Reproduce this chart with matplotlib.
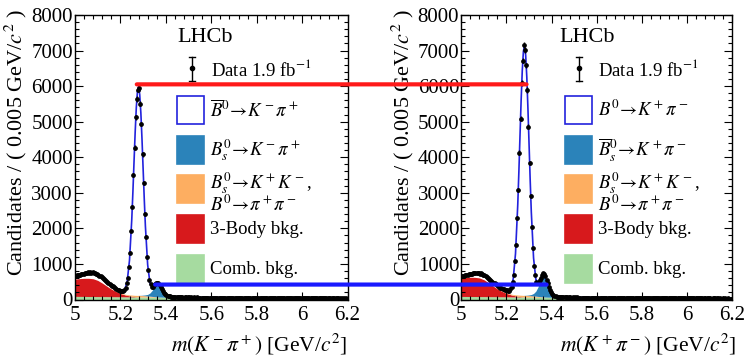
import numpy as np
import matplotlib.pyplot as plt
from matplotlib.patches import Rectangle, ConnectionPatch
from matplotlib.lines import Line2D
from matplotlib.ticker import MultipleLocator

plt.rcParams['font.family'] = ['Liberation Serif', 'DejaVu Serif']
plt.rcParams['mathtext.fontset'] = 'stix'

# bin centres, 0.005 GeV bins from 5.0 to 6.2
m_bins = np.round(np.arange(5.0025, 6.2, 0.005), 4)

# data, left panel  m(K- pi+)
data_L = np.array([
    668, 690, 679, 702, 695, 712, 706, 728, 735, 741,
    748, 762, 751, 770, 757, 760, 749, 742, 728, 715,
    690, 672, 655, 630, 612, 585, 560, 528, 505, 470,
    446, 420, 390, 372, 340, 318, 295, 280, 262, 250,
    238, 231, 248, 276, 322, 452, 606, 905, 1318, 1930,
    2610, 3490, 4270, 5120, 5640, 5905, 5950, 5510, 4935, 4080,
    3280, 2410, 1760, 1185, 826, 548, 425, 365, 352, 398,
    430, 458, 470, 452, 415, 355, 302, 240, 195, 165,
    140, 110, 101, 85, 84, 74, 78, 66, 70, 62,
    61, 58, 64, 57, 60, 55, 62, 58, 54, 59,
    57, 55, 60, 52, 58, 56, 51, 57, 54, 53,
    55, 50, 54, 52, 56, 49, 53, 51, 48, 52,
    51, 54, 48, 50, 47, 53, 49, 46, 51, 48,
    47, 50, 45, 49, 46, 44, 48, 47, 43, 46,
    45, 48, 44, 46, 42, 47, 43, 45, 41, 44,
    43, 40, 45, 42, 44, 39, 42, 41, 44, 40,
    41, 43, 39, 42, 38, 41, 40, 37, 42, 39,
    38, 41, 37, 40, 36, 39, 38, 35, 40, 37,
    37, 35, 39, 36, 38, 34, 37, 36, 33, 38,
    35, 37, 34, 36, 33, 35, 37, 32, 35, 34,
    34, 32, 36, 33, 35, 31, 34, 33, 30, 34,
    32, 34, 31, 33, 30, 33, 31, 32, 29, 33,
    31, 29, 33, 30, 32, 28, 31, 30, 29, 31,
    29, 31, 28, 30, 27, 30, 29, 28, 30, 27])

# data, right panel  m(K+ pi-)
data_R = np.array([
    648, 670, 662, 690, 701, 695, 712, 720, 731, 725,
    742, 738, 750, 733, 745, 738, 728, 735, 712, 700,
    675, 660, 628, 610, 585, 560, 528, 500, 478, 452,
    430, 405, 376, 352, 330, 315, 298, 288, 270, 262,
    255, 232, 246, 290, 348, 505, 698, 1070, 1540, 2280,
    3090, 4130, 5080, 6090, 6720, 7160, 7010, 6580, 5890, 4860,
    3840, 2920, 2040, 1440, 950, 685, 502, 470, 490, 548,
    615, 690, 735, 710, 655, 560, 455, 350, 268, 205,
    168, 130, 106, 88, 84, 74, 78, 67, 70, 63,
    60, 63, 57, 61, 55, 59, 62, 56, 58, 54,
    58, 53, 57, 55, 51, 56, 54, 50, 55, 52,
    53, 51, 55, 49, 53, 50, 47, 52, 49, 51,
    49, 52, 47, 50, 46, 49, 51, 45, 48, 47,
    48, 45, 47, 44, 49, 43, 46, 45, 42, 46,
    44, 46, 42, 45, 41, 44, 43, 40, 45, 42,
    41, 43, 40, 44, 39, 42, 40, 38, 42, 39,
    40, 38, 41, 37, 40, 39, 36, 40, 37, 38,
    37, 39, 36, 38, 35, 37, 38, 34, 37, 36,
    35, 37, 34, 36, 33, 36, 34, 35, 32, 35,
    34, 32, 35, 33, 31, 34, 33, 30, 34, 32,
    33, 31, 34, 30, 33, 32, 29, 32, 31, 30,
    31, 33, 29, 32, 30, 31, 28, 31, 30, 29,
    30, 28, 31, 29, 30, 27, 30, 29, 28, 30,
    28, 30, 27, 29, 28, 26, 29, 27, 28, 26])

# fit components (mass points where the curves are read)
m_fit = np.array([5.00, 5.02, 5.04, 5.06, 5.08, 5.10, 5.12, 5.14, 5.16, 5.18,
                  5.20, 5.21, 5.22, 5.23, 5.24, 5.25, 5.255, 5.26, 5.265, 5.27,
                  5.275, 5.28, 5.285, 5.29, 5.295, 5.30, 5.305, 5.31, 5.32, 5.33,
                  5.34, 5.35, 5.36, 5.37, 5.38, 5.39, 5.40, 5.41, 5.42, 5.44,
                  5.46, 5.50, 5.60, 5.70, 5.80, 5.90, 6.00, 6.10, 6.20])

comb_L = [88, 87, 86, 84, 83, 82, 81, 80, 78, 77,
          76, 75, 75, 74, 74, 73, 73, 72, 72, 72,
          71, 71, 71, 70, 70, 70, 70, 69, 68, 68,
          67, 67, 66, 65, 65, 64, 64, 63, 63, 62,
          60, 58, 53, 48, 44, 40, 36, 33, 30]
threebody_L = [485, 500, 510, 512, 500, 455, 380, 295, 215, 150,
               95, 74, 56, 41, 28, 18, 14, 10, 7, 5,
               3, 2, 1] + [0] * 26
misid_L = [0, 0, 0, 0, 0, 0, 1, 2, 3, 5,
           10, 14, 18, 23, 28, 33, 35, 37, 38, 40,
           41, 42, 42, 42, 41, 40, 38, 36, 31, 25,
           19, 13, 8, 5, 3, 2, 1, 0, 0] + [0] * 10
bs_L = [0] * 21 + [2, 4, 6, 9, 13, 18, 25, 45, 90,
                   170, 290, 370, 350, 250, 150, 80, 40, 20, 6,
                   2] + [0] * 8
sig_L = [100, 120, 140, 155, 165, 155, 135, 105, 80, 60,
         52, 62, 141, 376, 975, 2128, 2909, 3763, 4591, 5284,
         5736, 5870, 5643, 5130, 4396, 3548, 2698, 1934, 831, 281,
         90, 35, 15, 6, 2, 0, 0, 0, 0] + [0] * 10

comb_R = [86, 85, 84, 83, 82, 81, 80, 79, 77, 76,
          75, 74, 74, 73, 73, 72, 72, 71, 71, 71,
          70, 70, 70, 69, 69, 69, 69, 68, 67, 67,
          66, 66, 65, 64, 64, 63, 63, 62, 62, 61,
          59, 57, 52, 47, 43, 39, 35, 32, 29]
threebody_R = [520, 535, 542, 540, 525, 475, 395, 305, 220, 155,
               98, 77, 58, 43, 29, 19, 15, 11, 8, 5,
               3, 2, 1] + [0] * 26
misid_R = [0, 0, 0, 0, 0, 0, 1, 2, 4, 6,
           11, 15, 20, 25, 30, 35, 37, 39, 41, 42,
           43, 44, 44, 44, 43, 42, 40, 38, 33, 27,
           20, 14, 9, 6, 3, 2, 1, 0, 0] + [0] * 10
bs_R = [0] * 21 + [3, 5, 8, 12, 18, 25, 35, 70, 140,
                   270, 450, 600, 590, 420, 220, 100, 45, 20, 6,
                   2] + [0] * 8
sig_R = [50, 80, 100, 115, 125, 125, 115, 100, 85, 75,
         67, 70, 163, 443, 1157, 2540, 3480, 4497, 5493, 6321,
         6862, 7025, 6755, 6139, 5257, 4246, 3227, 2317, 994, 336,
         100, 40, 18, 7, 2, 0, 0, 0, 0] + [0] * 10

xticks = [5.0, 5.2, 5.4, 5.6, 5.8, 6.0, 6.2]
xtick_labels = ['5', '5.2', '5.4', '5.6', '5.8', '6', '6.2']
yticks = [0, 1000, 2000, 3000, 4000, 5000, 6000, 7000, 8000]

leg_L = [r'$\overline{B}^0\!\rightarrow\!K^-\pi^+$', r'$B_s^0\!\rightarrow\!K^-\pi^+$',
         r'$B_s^0\!\rightarrow\!K^+K^-$,', r'$B^0\!\rightarrow\!\pi^+\pi^-$',
         '3-Body bkg.', 'Comb. bkg.']
leg_R = [r'$B^0\!\rightarrow\!K^+\pi^-$', r'$\overline{B}_s^0\!\rightarrow\!K^+\pi^-$',
         r'$B_s^0\!\rightarrow\!K^+K^-$,', r'$B^0\!\rightarrow\!\pi^+\pi^-$',
         '3-Body bkg.', 'Comb. bkg.']

c_sig = '#2222dd'
c_bs = '#2b83ba'
c_mis = '#fdae61'
c_3b = '#d7191c'
c_comb = '#a6dba0'

W, H = 748, 363
fig = plt.figure(figsize=(W / 100, H / 100), dpi=100)


def px(x, y):
    return x / W, 1 - y / H


def panel(rect, data, comb, threebody, misid, bs, sig, xlabel):
    ax = fig.add_axes(rect)
    l1 = np.array(comb, float)
    l2 = l1 + np.array(threebody)
    l3 = l2 + np.array(misid)
    l4 = l3 + np.array(bs)
    tot = l4 + np.array(sig)
    ax.fill_between(m_fit, 0, l1, color=c_comb, lw=0)
    ax.fill_between(m_fit, l1, l2, color=c_3b, lw=0)
    ax.fill_between(m_fit, l2, l3, color=c_mis, lw=0)
    ax.fill_between(m_fit, l3, l4, color=c_bs, lw=0)
    ax.plot(m_fit, tot, color=c_sig, lw=1.2)
    ax.errorbar(m_bins, data, yerr=np.sqrt(data), fmt='o', ms=2.4,
                color='black', elinewidth=1, capsize=0, zorder=5)
    ax.set_xlim(5.0, 6.2)
    ax.set_ylim(0, 8000)
    ax.set_xticks(xticks)
    ax.set_xticklabels(xtick_labels)
    ax.set_yticks(yticks)
    ax.xaxis.set_minor_locator(MultipleLocator(0.04))
    ax.yaxis.set_minor_locator(MultipleLocator(200))
    ax.tick_params(which='both', direction='in', top=True, right=True, width=0.8)
    ax.tick_params(which='major', length=6, labelsize=15)
    ax.tick_params(which='minor', length=3)
    ax.tick_params(axis='y', pad=1.5)
    ax.tick_params(axis='x', pad=5)
    for s in ax.spines.values():
        s.set_linewidth(1)
    ax.set_xlabel(xlabel, fontsize=15.5, ha='right')
    ax.xaxis.set_label_coords(1.0, -0.11)
    ax.set_ylabel(r'Candidates / ( 0.005 GeV/$c^2$ )', fontsize=16, ha='right')
    ax.yaxis.set_label_coords(-0.168, 1.02)
    return ax


def legend(x_box, x_dat, x_lhcb, labels):
    fig.text(*px(x_lhcb, 37), 'LHCb', fontsize=16, va='center')
    xd, yd = px(x_dat, 68)
    fig.add_artist(Line2D([xd, xd], [1 - 57 / H, 1 - 81 / H], color='k', lw=1))
    for yy in (57, 81):
        fig.add_artist(Line2D([(x_dat - 3) / W, (x_dat + 3) / W], [1 - yy / H] * 2, color='k', lw=1))
    fig.add_artist(Line2D([xd], [yd], marker='o', ms=3, color='k'))
    fig.text(*px(x_dat + 19, 70), 'Data 1.9 fb$^{-1}$', fontsize=13.5, va='center')
    boxes = [('white', c_sig), (c_bs, c_bs), (c_mis, c_mis), (c_3b, c_3b), (c_comb, c_comb)]
    tops = [96, 136, 175, 215, 255]
    for (fc, ec), top in zip(boxes, tops):
        fig.add_artist(Rectangle(px(x_box, top + 28), 27 / W, 28 / H, facecolor=fc,
                                 edgecolor=ec, lw=1.2, transform=fig.transFigure))
    xt = x_box + 33
    text_y = [110, 150, 183, 205, 230, 269]
    for lab, yy in zip(labels, text_y):
        fig.text(*px(xt, yy), lab, fontsize=13.5, va='center')


y0 = (H - 299.5) / H
hgt = 284.5 / H
ax1 = panel([75 / W, y0, 272.5 / W, hgt], data_L, comb_L, threebody_L, misid_L, bs_L, sig_L,
            r'$m(K^-\pi^+)$ [GeV/$c^2$]')
ax2 = panel([461.3 / W, y0, 271 / W, hgt], data_R, comb_R, threebody_R, misid_R, bs_R, sig_R,
            r'$m(K^+\pi^-)$ [GeV/$c^2$]')
ax2.xaxis.set_label_coords(1.014, -0.11)

legend(177, 192, 177, leg_L)
legend(565, 579, 559, leg_R)

# lines linking the two panels
con_red = ConnectionPatch(xyA=(5.272, 6050), coordsA=ax1.transData,
                          xyB=(5.289, 6050), coordsB=ax2.transData,
                          color='#ff1a1a', lw=3, zorder=10)
con_blue = ConnectionPatch(xyA=(5.353, 420), coordsA=ax1.transData,
                           xyB=(5.378, 420), coordsB=ax2.transData,
                           color='#1a1aff', lw=3, zorder=10)
fig.add_artist(con_red)
fig.add_artist(con_blue)

fig.savefig('out.png', dpi=100)
